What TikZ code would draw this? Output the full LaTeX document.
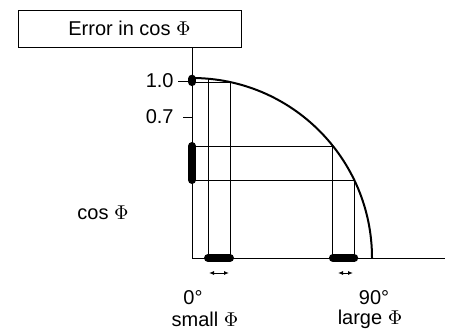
\documentclass[tikz,border=0pt]{standalone}
\usepackage{fontspec}
\setmainfont{Liberation Sans}
\usepackage{amsmath}
\usetikzlibrary{arrows.meta}

\begin{document}
\begin{tikzpicture}[x=0.5pt, y=-0.5pt, every node/.style={font=\fontsize{10}{12}\selectfont},
  rangebar/.style={line width=4pt, line cap=round},
  thin line/.style={line width=0.5pt}]
\useasboundingbox (0,0) rectangle (449,333);

% Title box
\node[draw, thin line, minimum width=111.5pt, minimum height=18.5pt] (title) at (129.5,28.5) {Error in cos $\Phi$};

% Axes and curve
\coordinate (o) at (192,258);
\coordinate (xend) at (445,258);
\coordinate (top) at (192,78);
\draw[thin line] (title.south -| o) -- (o) -- (xend);
\draw[line width=1pt] (top) arc[start angle=90, end angle=0, radius=90pt];

% Ticks
\coordinate (t10) at (178,81);
\coordinate (t10o) at (192,81);
\coordinate (t07) at (183,117);
\coordinate (t07o) at (192,117);
\draw[thin line] (t10) -- (t10o);
\draw[thin line] (t07) -- (t07o);
\node[anchor=east, inner sep=0pt] (one) at (174,81) {1.0};
\node[anchor=east, inner sep=0pt] (zeroseven) at (174,117) {0.7};
\node (cosphi) at (103,213) {cos $\Phi$};

% Small angle
\coordinate (q1) at (208,78.7);
\coordinate (q2) at (230,82.1);
\coordinate (q1b) at (208,258);
\coordinate (q2b) at (230,258);
\coordinate (qy1) at (192,78.7);
\coordinate (qy2) at (192,82.1);
\draw[thin line] (qy2) -- (q2);
\draw[thin line] (q1) -- (q1b);
\draw[thin line] (q2) -- (q2b);
\draw[rangebar] (qy1) -- (qy2);
\draw[rangebar] (q1b) -- (q2b);

% Large angle
\coordinate (p1) at (332.9,146);
\coordinate (p2) at (354.2,180);
\coordinate (p1b) at (332.9,258);
\coordinate (p2b) at (354.2,258);
\coordinate (py1) at (192,146);
\coordinate (py2) at (192,180);
\draw[thin line] (py1) -- (p1) -- (p1b);
\draw[thin line] (py2) -- (p2) -- (p2b);
\draw[rangebar] (py1) -- (py2);
\draw[rangebar] (p1b) -- (p2b);

% Arrows
\coordinate (a1) at (209,273);
\coordinate (a2) at (229,273);
\coordinate (a3) at (338,273);
\coordinate (a4) at (353,273);
\draw[thin line, {Latex[length=2.5pt, width=2pt]}-{Latex[length=2.5pt, width=2pt]}] (a1) -- (a2);
\draw[thin line, {Latex[length=2.5pt, width=2pt]}-{Latex[length=2.5pt, width=2pt]}] (a3) -- (a4);

% Labels
\node (deg0) at (193,298) {0°};
\node (small) at (205,319) {small $\Phi$};
\node (deg90) at (374,298) {90°};
\node (large) at (370,319) {large $\Phi$};

\end{tikzpicture}
\end{document}
